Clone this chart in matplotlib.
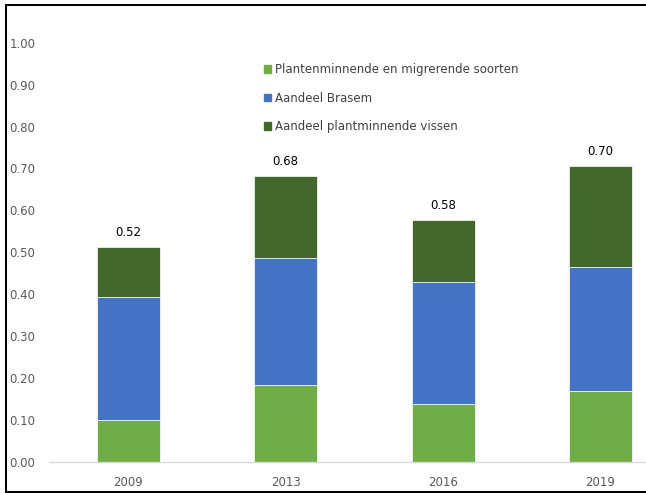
import matplotlib
matplotlib.use("Agg")
import matplotlib.pyplot as plt
from matplotlib.patches import Patch
from matplotlib.lines import Line2D
import numpy as np

years = ['2009', '2013', '2016', '2019']
plant_migr = [0.099, 0.182, 0.138, 0.169]
brasem = [0.293, 0.305, 0.290, 0.296]
plantmin = [0.121, 0.196, 0.149, 0.241]
total_labels = [0.52, 0.68, 0.58, 0.70]
series_names = ['Plantenminnende en migrerende soorten', 'Aandeel Brasem',
                'Aandeel plantminnende vissen']
yticks = [0.0, 0.1, 0.2, 0.3, 0.4, 0.5, 0.6, 0.7, 0.8, 0.9, 1.0]

c_light = '#70AD47'
c_blue = '#4472C4'
c_dark = '#43682B'
txt_gray = '#595959'

plt.rcParams['font.family'] = ['DejaVu Sans']
W, H = 646, 493
fig = plt.figure(figsize=(W / 100, H / 100), dpi=100)
ax = fig.add_axes([49.25 / W, 31.3 / H, 630 / W, 419 / H])

x = np.arange(len(years))
bw = 0.4
ax.bar(x, plant_migr, bw, color=c_light, edgecolor='white', linewidth=0.5, label=series_names[0])
bottom2 = np.array(plant_migr)
ax.bar(x, brasem, bw, bottom=bottom2, color=c_blue, edgecolor='white', linewidth=0.5, label=series_names[1])
bottom3 = bottom2 + np.array(brasem)
ax.bar(x, plantmin, bw, bottom=bottom3, color=c_dark, edgecolor='white', linewidth=0.5, label=series_names[2])
tops = bottom3 + np.array(plantmin)

for xi, t, lab in zip(x, tops, total_labels):
    ax.annotate(f'{lab:.2f}', (xi, t), xytext=(0, 5.5), textcoords='offset points',
                ha='center', va='bottom', fontsize=8.5, color='#000000')

ax.set_xlim(-0.5, 3.5)
ax.set_ylim(0, 1.0)
ax.set_yticks(yticks)
ax.set_yticklabels([f'{v:.2f}' for v in yticks])
ax.set_xticks(x)
ax.set_xticklabels(years)
ax.tick_params(axis='y', length=0, pad=10, labelsize=8.5, labelcolor=txt_gray)
ax.tick_params(axis='x', length=0, pad=10.5, labelsize=8.5, labelcolor=txt_gray)
for s in ['top', 'right', 'left']:
    ax.spines[s].set_visible(False)
ax.spines['bottom'].set_color('#D9D9D9')
ax.spines['bottom'].set_linewidth(1.0)

handles = [Patch(color=c_light), Patch(color=c_blue), Patch(color=c_dark)]
leg = fig.legend(handles, series_names, loc='upper left',
                 bbox_to_anchor=(264 / W, 1 - 63 / H), frameon=False,
                 fontsize=8.5, handlelength=0.62, handleheight=0.62,
                 handletextpad=0.35, labelspacing=1.32, borderpad=0,
                 borderaxespad=0, labelcolor='#404040')

# figure frame (left, top, bottom lines)
lw = 1.45
fig.add_artist(Line2D([6 / W, 6 / W], [1 - 5 / H, 1 - 491.5 / H], transform=fig.transFigure,
                      color='black', lw=lw, solid_capstyle='butt'))
fig.add_artist(Line2D([5 / W, 1.1], [1 - 5 / H, 1 - 5 / H], transform=fig.transFigure,
                      color='black', lw=lw, solid_capstyle='butt'))
fig.add_artist(Line2D([5 / W, 1.1], [1 - 491.5 / H, 1 - 491.5 / H], transform=fig.transFigure,
                      color='black', lw=lw, solid_capstyle='butt'))

fig.savefig('out.png', dpi=100)
